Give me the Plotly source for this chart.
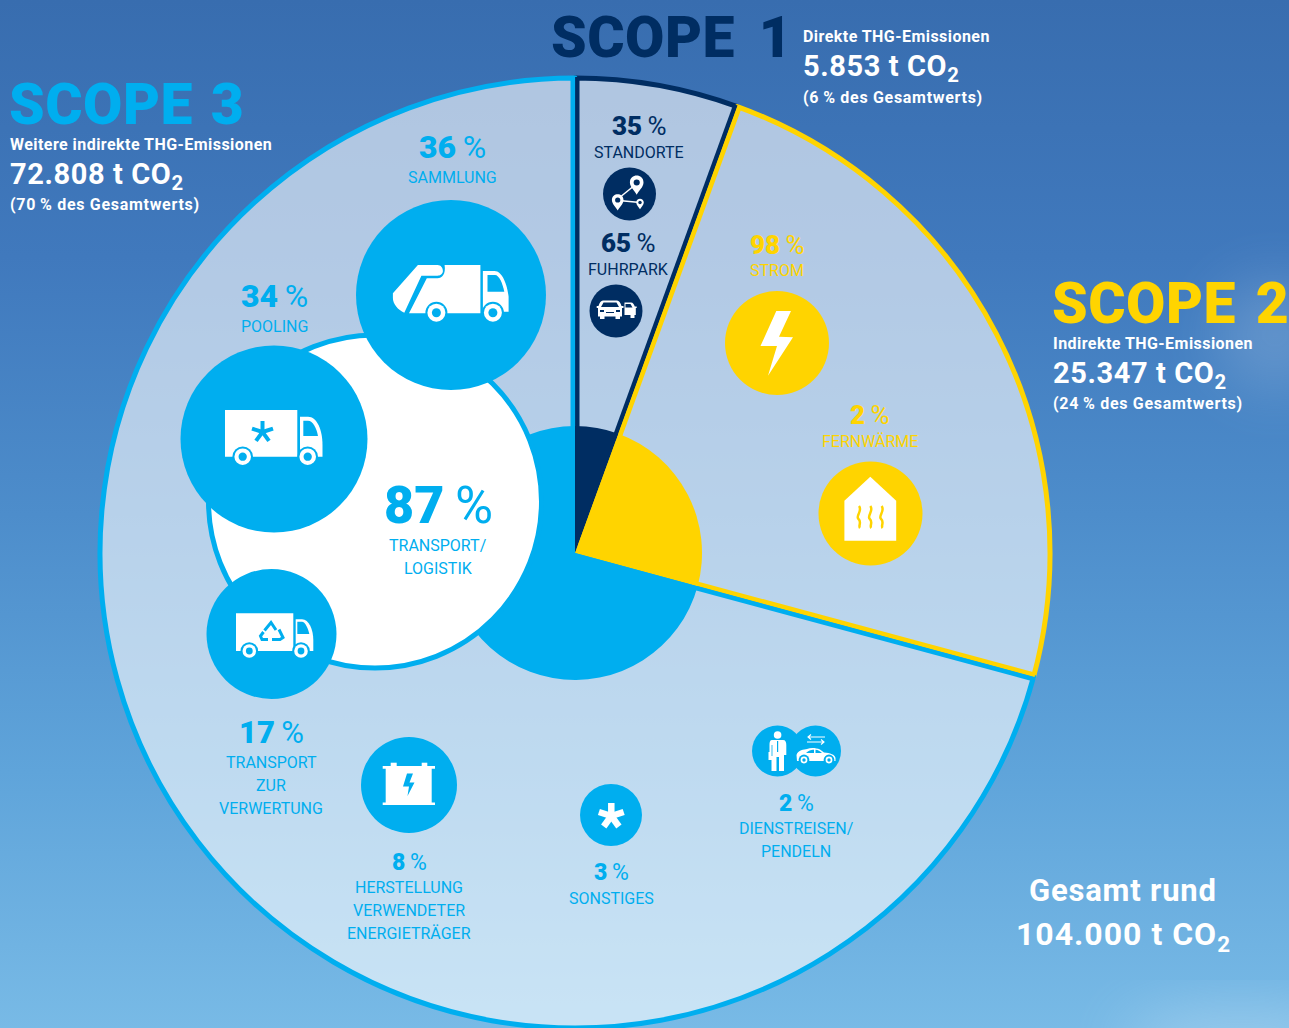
import base64, math, re
import plotly.graph_objects as go

# ---------- data ----------
scope_names = ["SCOPE 1", "SCOPE 2", "SCOPE 3"]
scope_kinds = ["Direkte THG-Emissionen", "Indirekte THG-Emissionen", "Weitere indirekte THG-Emissionen"]
scope_tonnes = ["5.853", "25.347", "72.808"]
scope_percent = [6, 24, 70]
wedge_shares = [5.55, 23.65, 70.8]   # share of the circle as drawn
total_tonnes = "104.000"

sub_percent = [35, 65, 98, 2, 36, 34, 87, 17, 8, 3, 2]
sub_labels = [["STANDORTE"], ["FUHRPARK"], ["STROM"], ["FERNWÄRME"], ["SAMMLUNG"], ["POOLING"],
              ["TRANSPORT/", "LOGISTIK"], ["TRANSPORT", "ZUR", "VERWERTUNG"],
              ["HERSTELLUNG", "VERWENDETER", "ENERGIETRÄGER"], ["SONSTIGES"], ["DIENSTREISEN/", "PENDELN"]]

# ---------- layout and style ----------
W, H = 1289, 1028
CX, CY, R, R_IN = 575, 553, 475, 127
NAVY, YEL, CYAN, WHITE = "#002D62", "#FFD400", "#00AEEF", "#FFFFFF"
scope_colors = [NAVY, YEL, CYAN]
FONT = "Roboto"

def X(p): return p / W
def Y(p): return 1 - p / H

def path(d):
    """pixel SVG path (M L C Q Z, absolute) -> paper coordinates"""
    out, is_x = [], True
    for tok in re.findall(r"[MLCQZ]|-?\d+\.?\d*", d):
        if tok in "MLCQZ":
            out.append(tok); is_x = True
        else:
            out.append(f"{X(float(tok)):.5f}" if is_x else f"{Y(float(tok)):.5f}")
            is_x = not is_x
    return " ".join(out)

shapes, annos = [], []

def circle(x, y, r, fill, line=None, lw=0):
    shapes.append(dict(type="circle", xref="paper", yref="paper", layer="above",
                       x0=X(x - r), x1=X(x + r), y0=Y(y + r), y1=Y(y - r), fillcolor=fill,
                       line=dict(color=line or fill, width=lw)))

def fill(d, color):
    shapes.append(dict(type="path", xref="paper", yref="paper", layer="above", path=path(d),
                       fillcolor=color, line=dict(width=0)))

def stroke(d, color, w):
    shapes.append(dict(type="path", xref="paper", yref="paper", layer="above", path=path(d),
                       line=dict(color=color, width=w)))

def text(s, x, y, size, color, anchor="center", weight=400, spacing=None, word=None):
    if spacing is not None:
        extra = f";word-spacing:{word}px" if word is not None else ""
        s = f'<span style="letter-spacing:{spacing}px{extra}">{s}</span>'
    annos.append(dict(text=s, x=X(x), y=Y(y), xref="paper", yref="paper", showarrow=False,
                      xanchor=anchor, yanchor="middle",
                      font=dict(family=FONT, size=size, color=color, weight=weight)))

def wheel(x, y, r, bg):
    circle(x, y, r + 2, bg); circle(x, y, r, WHITE); circle(x, y, r * 0.5, bg)

def asterisk(x, y, L, w, color):
    for i in range(5):
        a = math.radians(72 * i)
        stroke(f"M{x:.1f},{y:.1f} L{x + L * math.sin(a):.1f},{y - L * math.cos(a):.1f}", color, w)

def pin(x, y, r, bg):
    fill(f"M{x-r},{y} C{x-r},{y-1.35*r} {x+r},{y-1.35*r} {x+r},{y} C{x+r},{y+0.7*r} {x+0.3*r},{y+1.2*r} {x},{y+1.8*r} "
         f"C{x-0.3*r},{y+1.2*r} {x-r},{y+0.7*r} {x-r},{y} Z", WHITE)
    circle(x, y, r * 0.45, bg)

# radial double edges between the wedges, derived from the shares
total = sum(wedge_shares)
cum = 0
for i in range(3):
    th = math.radians(360 * cum / total)
    before, after = scope_colors[i - 1], scope_colors[i]
    dx, dy = math.sin(th), -math.cos(th)
    nx, ny = math.cos(th), math.sin(th)
    for col, off in ((before, -2.3), (after, 2.3)):
        x0 = CX + dx * (R_IN - 6) + nx * off; y0 = CY + dy * (R_IN - 6) + ny * off
        x1 = CX + dx * (R + 1) + nx * off; y1 = CY + dy * (R + 1) + ny * off
        stroke(f"M{x0:.2f},{y0:.2f} L{x1:.2f},{y1:.2f}", col, 4.4)
    cum += wedge_shares[i]

circle(375, 501.5, 166.5, WHITE, CYAN, 5)

# --- bubbles and icons ---
circle(451, 295, 95, CYAN)      # Sammlung
fill("M417.9,265 L437.5,265 C441,265 442.9,268 442.9,271 C442.9,274 440,275.7 437.5,275.7 L421.4,275.7 L404.3,312.7 "
     "C398,310 392.9,304 392.9,298 L392.9,293.3 Z", WHITE)
fill("M444.6,265 L480.4,265 L480.4,313.3 L409,313.3 L426.8,278.3 L437.5,278.3 C442,278.3 446,274 444.6,265 Z", WHITE)
fill("M482.9,271 L494.6,271 C502,271 507,284 508.6,296.7 L508.6,311.7 L482.9,311.7 Z", WHITE)
fill("M487.5,275 L495,275 C499,275 502.5,283 504.3,291.7 L487.5,291.7 Z", CYAN)
wheel(436.4, 312.7, 9, CYAN); wheel(492.9, 312.7, 9, CYAN)

circle(274, 439, 93.5, CYAN)    # Pooling
fill("M225,410 L297.3,410 L297.3,456.7 L225,456.7 Z", WHITE)
fill("M300,416.7 L308,416.7 C317,416.7 322.5,430 322.5,445 L322.5,456.7 L300,456.7 Z", WHITE)
fill("M303.3,420.7 L308,420.7 C313,420.7 316.5,428 318,436 L303.3,436 Z", CYAN)
wheel(242.7, 456.7, 8.3, CYAN); wheel(307.7, 456.7, 8.3, CYAN)
asterisk(262.5, 432, 11, 4, CYAN)

circle(271.5, 634, 65, CYAN)    # Verwertung
fill("M236,613.3 L293.3,613.3 L293.3,651 L236,651 Z", WHITE)
fill("M295.7,619.3 L302,619.3 C309,619.3 313.3,630 313.3,640 L313.3,651 L295.7,651 Z", WHITE)
fill("M297.3,621.7 L302,621.7 C305,621.7 308,628 309.3,634 L297.3,634 Z", CYAN)
wheel(249.3, 651, 6.8, CYAN); wheel(301, 651, 6.8, CYAN)
stroke("M264.5,630.5 L271,622.5 L276,630", CYAN, 3)
stroke("M279,629.5 L283,637.5 L280,639.5 L272,639.5", CYAN, 3)
stroke("M268,639.5 L262,639.5 L260.5,636 L263.5,632", CYAN, 3)

circle(629.5, 194, 26.5, NAVY)  # Standorte
stroke("M619,198 L635,185", WHITE, 1.5); stroke("M619,200.5 L640,202.5", WHITE, 1.5)
pin(636.7, 182.5, 6.8, NAVY); pin(617.7, 200, 5.8, NAVY); pin(640, 202.5, 3.8, NAVY)

circle(616, 311, 26.5, NAVY)    # Fuhrpark
fill("M624.5,302.5 L631,302.5 C633,302.5 634,304.5 634.8,306.5 L636.7,306.5 L636.7,308 L635.8,308 L635.8,315 L634.5,315 "
     "L634.5,318 L630.5,318 L630.5,315 L624.5,315 Z", WHITE)
fill("M625.5,304 L630.5,304 L632.5,307.5 L625.5,307.5 Z", NAVY)
fill("M603,300.5 L617,300.5 C619,300.5 620.5,303 621.5,306 L623.5,306 L623.5,308 L622,308 L622,316.5 L620,316.5 L620,319 "
     "L615.5,319 L615.5,316.5 L604.5,316.5 L604.5,319 L600,319 L600,316.5 L598,316.5 L598,308 L596.7,308 L596.7,306 L598.5,306 "
     "C599.5,303 601,300.5 603,300.5 Z", WHITE)
fill("M603.5,302.5 L616.5,302.5 L619,307 L601,307 Z", NAVY)
fill("M600,310 L604,310 L604,312 L600,312 Z", NAVY)
fill("M616,310 L620,310 L620,312 L616,312 Z", NAVY)
fill("M606,312 L614,312 L614,313 L606,313 Z", NAVY)

circle(777, 343, 52, YEL)       # Strom
fill("M776.3,311 L791,311 L779,336.7 L793,337.3 L768,375.7 L777,346 L760.5,346 Z", WHITE)

circle(870.5, 513.5, 52, YEL)   # Fernwärme
fill("M870.3,476.7 L896.2,500.7 L896.2,540.7 L844.4,540.7 L844.4,500.7 Z", WHITE)
for hx in (859, 870.3, 881.6):
    stroke(f"M{hx},506 C{hx+4},511 {hx-4},516 {hx-0.5},519 C{hx+3},522 {hx-1},526 {hx+1},528", YEL, 2.5)

circle(409, 785, 48, CYAN)      # Herstellung
fill("M385.7,768 L431.7,768 L431.7,803 L385.7,803 Z", WHITE)
fill("M382.7,766 L435,766 L435,768.7 L382.7,768.7 Z", WHITE)
fill("M382.7,802.5 L435,802.5 L435,805 L382.7,805 Z", WHITE)
fill("M390.7,762.7 L396.7,762.7 L396.7,766 L390.7,766 Z", WHITE)
fill("M421.7,762.7 L427.3,762.7 L427.3,766 L421.7,766 Z", WHITE)
fill("M407,773.5 L413,773.5 L409.5,782.5 L414.5,782.5 L407.5,796 L409,786.5 L403,786.5 Z", CYAN)

circle(611, 815, 31, CYAN)      # Sonstiges
asterisk(611.3, 816, 13, 6.5, WHITE)

circle(815.5, 751, 25.5, CYAN)  # Dienstreisen
circle(777.5, 751, 25.5, CYAN)
circle(777.6, 735, 3.8, WHITE)
fill("M772,740 L783,740 C785.5,740 786.3,742 786.3,745 L786.3,755 L784,755 L784,771 L779,771 L779,757 L776.5,757 L776.5,771 L771.5,771 "
     "L771.5,760 L768.5,760 L768.5,752 L769.5,752 L769.5,745 C769.5,742 770,740 772,740 Z", WHITE)
stroke("M777.6,741 L777.6,752", CYAN, 1.2)
stroke("M772,745 L772,756", CYAN, 0.8)
fill("M796.5,755 C798,750 804,749.5 807,749 C811,747.5 816,748 820,749.5 L824,752.5 C830,753 835,754.5 835.5,758 L835.5,761 L797,761 Z", WHITE)
fill("M806,753 C809,750 812,749.5 814,749.8 L814,753 Z", CYAN)
fill("M815.5,749.8 C818,750 820,751.5 822,753 L815.5,753 Z", CYAN)
wheel(804, 760, 3.4, CYAN); wheel(829, 760, 3.4, CYAN)
stroke("M825,737 L808,737 M811,734.5 L808,737 L811,739.5", WHITE, 1.1)
stroke("M807,742 L824,742 M821,739.5 L824,742 L821,744.5", WHITE, 1.1)

# --- text ---
pct_pos = [(639, 126, 26, NAVY), (628, 243, 26, NAVY), (777, 245, 26, YEL), (870, 415, 26, YEL), (452, 147, 32, CYAN),
           (274, 296, 32, CYAN), (438, 505, 52, CYAN), (271, 732, 31, CYAN), (409, 862, 23, CYAN), (611, 872, 23, CYAN),
           (796, 803, 23, CYAN)]
label_pos = [(639, 152), (628, 270), (777, 271), (870, 441), (452, 177), (274, 326), (438, 545), (271, 762), (409, 887),
             (611, 898), (796, 828)]
for val, lines, (px, py, sz, col), (lx, ly) in zip(sub_percent, sub_labels, pct_pos, label_pos):
    text(f'<span style="font-weight:900">{val}</span>\u2009%', px, py, sz, col)
    for k, line in enumerate(lines):
        text(line, lx, ly + k * 23, 16, col)

head_pos = [(549, 38), (1050, 303), (7, 105)]
head_word = [9, 5, 3]
info_x = [801, 1051, 8]
info_y = [37, 344, 145]
for i in range(3):
    hx, hy = head_pos[i]
    text(scope_names[i], hx, hy, 57, scope_colors[i], "left", 900, 0.5, head_word[i])
    text(scope_kinds[i], info_x[i], info_y[i], 16, WHITE, "left", 700, 0.45)
    text(f"{scope_tonnes[i]} t CO<sub>2</sub>", info_x[i], info_y[i] + 31, 29, WHITE, "left", 700, 0.6)
    text(f"({scope_percent[i]}\u2009% des Gesamtwerts)", info_x[i], info_y[i] + 60, 16, WHITE, "left", 700, 0.7)
text("Gesamt rund", 1123, 890, 31, WHITE, "center", 700, 0.8)
text(f"{total_tonnes} t CO<sub>2</sub>", 1123, 936, 32, WHITE, "center", 700, 1)

# --- background ---
svg = f'''<svg xmlns="http://www.w3.org/2000/svg" width="{W}" height="{H}" viewBox="0 0 {W} {H}">
<defs><linearGradient id="g" x1="0" y1="0" x2="0" y2="1">
<stop offset="0" stop-color="#386DAF"/><stop offset="0.25" stop-color="#4079BD"/>
<stop offset="0.5" stop-color="#4D8DCB"/><stop offset="0.75" stop-color="#5FA4DA"/><stop offset="1" stop-color="#78BAE6"/>
</linearGradient><filter id="b" x="-50%" y="-50%" width="200%" height="200%"><feGaussianBlur stdDeviation="30"/></filter></defs>
<rect width="{W}" height="{H}" fill="url(#g)"/>
<ellipse cx="1275" cy="335" rx="60" ry="55" fill="#fff" opacity="0.16" filter="url(#b)"/>
<ellipse cx="1240" cy="1040" rx="120" ry="30" fill="#fff" opacity="0.25" filter="url(#b)"/>
</svg>'''
bg = "data:image/svg+xml;base64," + base64.b64encode(svg.encode()).decode()

# --- pies ---
def pie(radius, colors, line_w, name):
    return go.Pie(values=wedge_shares, labels=scope_names, sort=False, direction="clockwise", rotation=0,
                  textinfo="none", hoverinfo="label", showlegend=False, name=name,
                  marker=dict(colors=colors, line=dict(color=scope_colors, width=line_w)),
                  domain=dict(x=[X(CX - radius), X(CX + radius)], y=[Y(CY + radius), Y(CY - radius)]))

fig = go.Figure([pie(R, ["rgba(255,255,255,0.6)"] * 3, 5, "outer"), pie(R_IN, scope_colors, 0, "inner")])
fig.update_layout(width=W, height=H, autosize=False, margin=dict(l=0, r=0, t=0, b=0), paper_bgcolor="#4D8DCB",
                  shapes=shapes, annotations=annos,
                  images=[dict(source=bg, xref="paper", yref="paper", x=0, y=1, sizex=1, sizey=1, xanchor="left",
                               yanchor="top", sizing="stretch", layer="below")])
fig.write_html("out.html", config=dict(displayModeBar=False),
               post_script="document.documentElement.style.margin='0';document.body.style.margin='0';document.documentElement.style.overflow='hidden';")
